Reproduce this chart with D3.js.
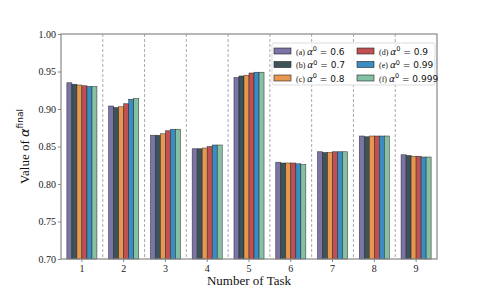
<!DOCTYPE html>
<html><head><meta charset="utf-8">
<script src="https://cdn.jsdelivr.net/npm/d3@7"></script>
<style>body{margin:0;background:#fff}svg{display:block}text{font-family:"Liberation Serif","DejaVu Serif",serif}</style>
</head><body><svg id="c" width="485" height="291"></svg>
<script>
const tasks = ["1","2","3","4","5","6","7","8","9"];
const seriesNames = ["(a)","(b)","(c)","(d)","(e)","(f)"];
const alpha0 = ["0.6","0.7","0.8","0.9","0.99","0.999"];
const colors = ["#7b74a6","#3e5358","#e8984e","#c05051","#3b8cc3","#84c0a3"];
const values = [
  [0.935,0.904,0.865,0.847,0.942,0.829,0.843,0.864,0.839],
  [0.933,0.902,0.865,0.847,0.944,0.828,0.842,0.863,0.838],
  [0.932,0.903,0.867,0.848,0.945,0.828,0.842,0.864,0.837],
  [0.931,0.907,0.871,0.850,0.948,0.828,0.843,0.864,0.837],
  [0.930,0.913,0.873,0.852,0.949,0.827,0.843,0.864,0.836],
  [0.930,0.914,0.873,0.852,0.949,0.826,0.843,0.864,0.836]
];
const yTicks = [0.70,0.75,0.80,0.85,0.90,0.95,1.00];

const svg = d3.select("#c");
const L=61,R=437,T=34,B=259;
const x = d3.scaleBand().domain(tasks).range([L,R]).padding(0);
const y = d3.scaleLinear().domain([0.70,1.00]).range([B,T]);
const inner = d3.scaleBand().domain(d3.range(6)).range([0,x.bandwidth()*0.72]);
const off = x.bandwidth()*0.14;
const SANS = "DejaVu Sans";

svg.append("g").selectAll("line").data(tasks.slice(1)).join("line")
  .attr("x1",d=>x(d)).attr("x2",d=>x(d)).attr("y1",T).attr("y2",B)
  .attr("stroke","#aaa").attr("stroke-width",1).attr("stroke-dasharray","3,2");

values.forEach((vals,si)=>{
  svg.append("g").selectAll("rect").data(vals).join("rect")
    .attr("x",(v,i)=>x(tasks[i])+off+inner(si))
    .attr("width",inner.bandwidth())
    .attr("y",v=>y(v)).attr("height",v=>B-y(v))
    .attr("fill",colors[si]).attr("stroke","#222").attr("stroke-width",0.6).attr("stroke-opacity",0.8);
});

svg.append("rect").attr("x",L).attr("y",T).attr("width",R-L).attr("height",B-T)
  .attr("fill","none").attr("stroke","#888").attr("stroke-width",1.2);

const ya = svg.append("g").attr("transform",`translate(${L},0)`)
  .call(d3.axisLeft(y).tickValues(yTicks).tickFormat(d3.format(".2f")).tickSize(3).tickPadding(2));
const xa = svg.append("g").attr("transform",`translate(0,${B})`)
  .call(d3.axisBottom(x).tickSize(3).tickPadding(3));
[ya,xa].forEach(a=>{a.select(".domain").remove();a.selectAll("line").attr("stroke","#888");
  a.selectAll("text").attr("font-size",10).attr("fill","#222").style("font-family","Liberation Serif");});

svg.append("text").attr("x",(L+R)/2).attr("y",285).attr("text-anchor","middle")
  .attr("font-size",13).attr("fill","#111").text("Number of Task");
const yl = svg.append("text").attr("transform",`translate(29,${(T+B)/2}) rotate(-90)`)
  .attr("text-anchor","middle").attr("font-size",13).attr("fill","#111");
yl.append("tspan").text("Value of ");
yl.append("tspan").attr("font-style","italic").style("font-family",SANS).text("α");
yl.append("tspan").attr("font-size",9).attr("dy",-6).style("font-family",SANS).text("final");

const lg = svg.append("g");
lg.append("rect").attr("x",272).attr("y",43).attr("width",163).attr("height",42)
  .attr("fill","#fff").attr("fill-opacity",0.85).attr("stroke","#ddd").attr("rx",2);
seriesNames.forEach((n,i)=>{
  const col=Math.floor(i/3), row=i%3;
  const gx=274+col*83, gy=48+row*13.5;
  lg.append("rect").attr("x",gx).attr("y",gy).attr("width",17).attr("height",6)
    .attr("fill",colors[i]).attr("stroke","#222").attr("stroke-width",0.6);
  const t=lg.append("text").attr("x",gx+22).attr("y",gy+6.5).attr("font-size",8).attr("fill","#111");
  t.append("tspan").text(n+" ");
  t.append("tspan").attr("font-style","italic").attr("font-size",9).style("font-family",SANS).text("α");
  t.append("tspan").attr("font-size",6.5).attr("dy",-3.5).style("font-family",SANS).text("0");
  t.append("tspan").attr("dy",3.5).attr("font-size",9).style("font-family",SANS).text(" = "+alpha0[i]);
});
</script></body></html>
